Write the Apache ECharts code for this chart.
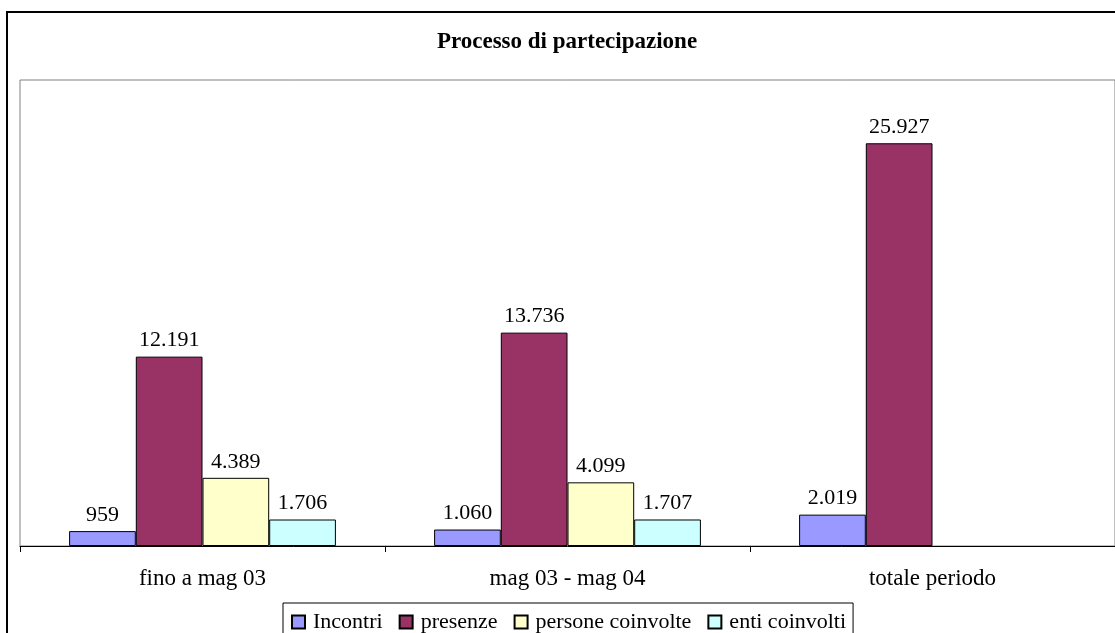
<!DOCTYPE html>
<html>
<head>
<meta charset="utf-8">
<script src="https://cdn.jsdelivr.net/npm/echarts@6/dist/echarts.min.js"></script>
<style>
html,body{margin:0;padding:0;background:#fff;}
#main{width:1115px;height:633px;}
</style>
</head>
<body>
<div id="main"></div>
<script>
const categories = ['fino a mag 03', 'mag 03 - mag 04', 'totale periodo'];
const seriesNames = ['Incontri', 'presenze', 'persone coinvolte', 'enti coinvolti'];
const incontri = [959, 1060, 2019];
const presenze = [12191, 13736, 25927];
const persone = [4389, 4099, null];
const enti = [1706, 1707, null];
const titleText = 'Processo di partecipazione';

const colors = ['#9999FF', '#993366', '#FFFFCC', '#CCFFFF'];
const font = '"Liberation Serif", "Times New Roman", serif';
const fmt = v => v.toLocaleString('de-DE');

const chart = echarts.init(document.getElementById('main'), null, {renderer: 'canvas'});
const dataSets = [incontri, presenze, persone, enti];
chart.setOption({
  animation: false,
  backgroundColor: '#fff',
  title: {
    text: titleText, left: 567, textAlign: 'center', top: 31, padding: 0,
    textStyle: {fontFamily: font, fontWeight: 'bold', fontSize: 23, color: '#000'}
  },
  graphic: [{
    type: 'rect', silent: true, z: 100,
    shape: {x: 7, y: 12, width: 1200, height: 700},
    style: {fill: 'none', stroke: '#000', lineWidth: 2}
  }],
  legend: {
    left: 283, top: 603, width: 700,
    padding: [8, 7, 10, 8],
    borderColor: '#000', borderWidth: 1,
    itemWidth: 13, itemHeight: 13, itemGap: 16,
    icon: 'rect',
    textStyle: {fontFamily: font, fontSize: 22, color: '#000', padding: [0, 0, 0, 3]},
    data: seriesNames
  },
  grid: {
    left: 20, top: 80, width: 1098, height: 466,
    show: true, borderColor: '#808080', borderWidth: 1,
    containLabel: false
  },
  xAxis: {
    type: 'category', data: categories,
    axisLine: {lineStyle: {color: '#000', width: 1}},
    axisTick: {show: true, length: 6, alignWithLabel: false, lineStyle: {color: '#000'}},
    axisLabel: {fontFamily: font, fontSize: 23, color: '#000', margin: 21}
  },
  yAxis: {
    type: 'value', min: 0, max: 30000,
    show: false, splitLine: {show: false}
  },
  series: seriesNames.map((n, i) => ({
    name: n, type: 'bar', data: dataSets[i],
    barWidth: 66.7, barGap: '0%',
    itemStyle: {color: colors[i], borderColor: '#000', borderWidth: 1},
    label: {
      show: true, position: 'top', distance: 5,
      fontFamily: font, fontSize: 22, color: '#000',
      formatter: p => fmt(p.value)
    }
  }))
});
</script>
</body>
</html>
